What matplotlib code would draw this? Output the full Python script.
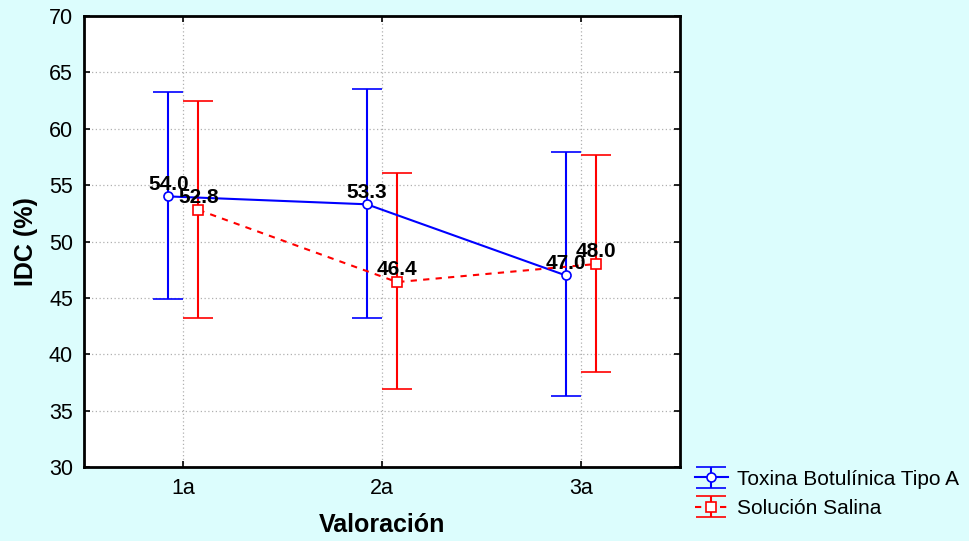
import numpy as np
import matplotlib
matplotlib.use("Agg")
import matplotlib.pyplot as plt

plt.rcParams["font.family"] = ["Liberation Sans", "DejaVu Sans"]

# Donnees
valoraciones = ["1a", "2a", "3a"]
toxina_media = [54.0, 53.3, 47.0]
toxina_sup = [63.3, 63.5, 57.9]
toxina_inf = [44.9, 43.2, 36.3]
salina_media = [52.8, 46.4, 48.0]
salina_sup = [62.5, 56.1, 57.7]
salina_inf = [43.2, 36.9, 38.4]

FOND = "#dcfdfd"
decalage = 0.076

fig = plt.figure(figsize=(9.69, 5.41), dpi=100, facecolor=FOND)
ax = fig.add_axes([0.0867, 0.1368, 0.615, 0.8336])
ax.set_facecolor("white")

x = np.arange(1, len(valoraciones) + 1)


def tracer(pos, media, sup, inf, couleur, style, marqueur, msize, nom):
    media = np.array(media)
    err = [media - np.array(inf), np.array(sup) - media]
    ax.errorbar(pos, media, yerr=err, color=couleur, ls=style, lw=1.5,
                marker=marqueur, ms=msize, mfc="white", mec=couleur, mew=1.2,
                capsize=11, capthick=1.5, elinewidth=1.5, label=nom, zorder=3)
    for xi, yi in zip(pos, media):
        ax.annotate(f"{yi:.1f}", (xi, yi), xytext=(0, 2), textcoords="offset points",
                    ha="center", va="bottom", fontsize=15, fontweight="bold", zorder=5)


tracer(x - decalage, toxina_media, toxina_sup, toxina_inf, "blue", "-", "o", 6.5,
       "Toxina Botulínica Tipo A")
tracer(x + decalage, salina_media, salina_sup, salina_inf, "red", (0, (3, 3)), "s", 7.5,
       "Solución Salina")

ax.set_xlim(0.5, 3.5)
ax.set_ylim(30, 70)
ax.set_xticks(x)
ax.set_xticklabels(valoraciones)
ax.set_yticks(np.arange(30, 71, 5))
ax.tick_params(direction="in", top=True, right=True, labelsize=15.5, length=4, width=1.2,
               pad=8)
ax.grid(True, linestyle=(0, (1, 2)), color="#b0b0b0", lw=0.9, zorder=0)
for s in ax.spines.values():
    s.set_linewidth(2)

ax.set_xlabel("Valoración", fontsize=18, fontweight="bold", labelpad=10)
ax.set_ylabel("IDC (%)", fontsize=18, fontweight="bold", labelpad=8)

fig.legend(loc="upper left", bbox_to_anchor=(0.717, 0.132), frameon=False,
           fontsize=15, handlelength=1.6, handletextpad=0.45, labelspacing=0.5,
           borderaxespad=0, borderpad=0)

fig.savefig("out.png", dpi=100, facecolor=FOND)
